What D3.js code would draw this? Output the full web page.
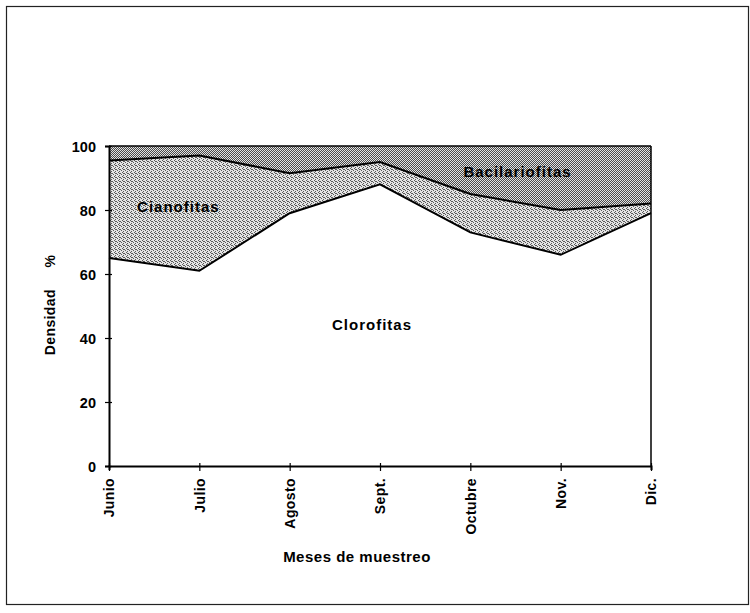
<!DOCTYPE html>
<html>
<head>
<meta charset="utf-8">
<script src="https://cdn.jsdelivr.net/npm/d3@7"></script>
<style>
  body { margin: 0; background: #fff; }
  text { font-family: 'Liberation Sans', Arial, sans-serif; font-weight: bold; fill: #000; }
</style>
</head>
<body>
<svg id="chart" width="750" height="613"></svg>
<script>
// Data (percent density per month)
const months = ['Junio', 'Julio', 'Agosto', 'Sept.', 'Octubre', 'Nov.', 'Dic.'];
const clorofitas = [65, 61, 79, 88, 73, 66, 79];
const cianofitas = [30.5, 36, 12.5, 7, 12, 14, 3];
const bacilariofitas = [4.5, 3, 8.5, 5, 15, 20, 18];
const yTicks = [0, 20, 40, 60, 80, 100];

const svg = d3.select('#chart');
const margin = { left: 109, right: 99, top: 146, bottom: 147 };
const width = 750 - margin.left - margin.right;
const height = 613 - margin.top - margin.bottom;

// outer frame
svg.append('rect')
  .attr('x', 6.5).attr('y', 6.5).attr('width', 742).attr('height', 598)
  .attr('fill', 'none').attr('stroke', '#222').attr('stroke-width', 1.2);

// dither patterns (scanned halftone look)
const defs = svg.append('defs');
const cian = defs.append('pattern').attr('id', 'cian')
  .attr('width', 4).attr('height', 4).attr('patternUnits', 'userSpaceOnUse');
cian.append('rect').attr('width', 4).attr('height', 4).attr('fill', '#e4e4e4');
[[0, 0], [2, 1], [1, 2], [3, 3], [2, 3]].forEach(([px, py]) => {
  cian.append('rect').attr('x', px).attr('y', py).attr('width', 1).attr('height', 1).attr('fill', '#5a5a5a');
});
const baci = defs.append('pattern').attr('id', 'baci')
  .attr('width', 2).attr('height', 2).attr('patternUnits', 'userSpaceOnUse');
baci.append('rect').attr('width', 2).attr('height', 2).attr('fill', '#e2e2e2');
baci.append('rect').attr('x', 0).attr('y', 0).attr('width', 1).attr('height', 1).attr('fill', '#4a4a4a');
baci.append('rect').attr('x', 1).attr('y', 1).attr('width', 1).attr('height', 1).attr('fill', '#4a4a4a');

const x = d3.scalePoint().domain(months).range([0, width]);
const y = d3.scaleLinear().domain([0, 100]).range([height, 0]);

const rows = months.map((m, i) => ({
  month: m, clorofitas: clorofitas[i], cianofitas: cianofitas[i], bacilariofitas: bacilariofitas[i],
}));
const series = d3.stack().keys(['clorofitas', 'cianofitas', 'bacilariofitas'])(rows);
const fills = { clorofitas: '#fff', cianofitas: 'url(#cian)', bacilariofitas: 'url(#baci)' };

const g = svg.append('g').attr('transform', `translate(${margin.left},${margin.top})`);

const area = d3.area()
  .x(d => x(d.data.month))
  .y0(d => y(d[0]))
  .y1(d => y(d[1]));
const line = d3.line()
  .x(d => x(d.data.month))
  .y(d => y(d[1]));

g.selectAll('path.area').data(series).enter()
  .append('path')
  .attr('class', 'area')
  .attr('d', area)
  .attr('fill', d => fills[d.key]);

g.selectAll('path.edge').data(series).enter()
  .append('path')
  .attr('class', 'edge')
  .attr('d', line)
  .attr('fill', 'none')
  .attr('stroke', '#000')
  .attr('stroke-width', d => (d.key === 'bacilariofitas' ? 1.5 : 2));

// right border line
g.append('line')
  .attr('x1', width).attr('x2', width).attr('y1', 0).attr('y2', height)
  .attr('stroke', '#000').attr('stroke-width', 1.5);

// y axis
const yAxis = g.append('g')
  .call(d3.axisLeft(y).tickValues(yTicks).tickSize(4).tickPadding(9));
yAxis.select('.domain').attr('stroke-width', 2);
yAxis.selectAll('.tick line').attr('x2', 3).attr('x1', -4).attr('stroke-width', 1.2);
yAxis.selectAll('.tick text').style('font-size', '14.5px').attr('dy', '0.35em');

// x axis
const xAxis = g.append('g').attr('transform', `translate(0,${height})`)
  .call(d3.axisBottom(x).tickSize(4).tickPadding(6));
xAxis.select('.domain').attr('stroke-width', 2);
xAxis.selectAll('.tick line').attr('y1', -3).attr('y2', 5).attr('stroke-width', 1.2);
xAxis.selectAll('.tick text')
  .style('font-size', '14px')
  .style('letter-spacing', '0.4px')
  .attr('transform', 'rotate(-90)')
  .attr('text-anchor', 'end')
  .attr('x', -12)
  .attr('y', 0)
  .attr('dy', '0.35em');

// area labels
const labelStyle = sel => sel.style('font-size', '15px').style('letter-spacing', '1px')
  .attr('text-anchor', 'middle').attr('dy', '0.35em');
g.append('text').attr('x', x('Julio') - 21).attr('y', y(81)).call(labelStyle).text('Cianofitas');
g.append('text').attr('x', (x('Octubre') + x('Nov.')) / 2 + 2).attr('y', y(92)).call(labelStyle).text('Bacilariofitas');
g.append('text').attr('x', x('Sept.') - 8).attr('y', y(44)).call(labelStyle).text('Clorofitas');

// axis titles
svg.append('text')
  .attr('transform', `translate(50,${margin.top + height / 2 - 1}) rotate(-90)`)
  .attr('text-anchor', 'middle').attr('dy', '0.35em')
  .style('font-size', '14px')
  .style('letter-spacing', '0.4px')
  .attr('xml:space', 'preserve')
  .text('Densidad     %');
svg.append('text')
  .attr('x', 357).attr('y', 562).attr('text-anchor', 'middle')
  .style('font-size', '15px')
  .style('letter-spacing', '0.5px')
  .text('Meses de muestreo');
</script>
</body>
</html>
